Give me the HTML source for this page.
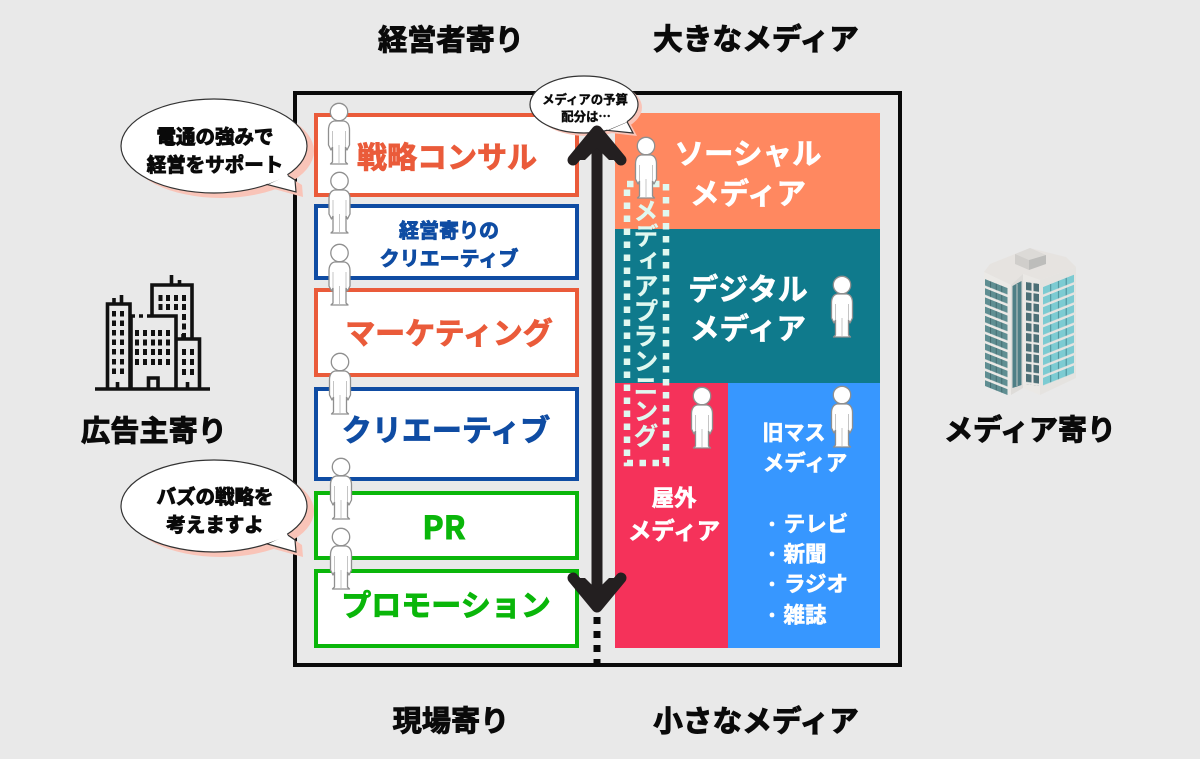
<!DOCTYPE html>
<html lang="ja">
<head>
<meta charset="utf-8">
<style>
html,body{margin:0;padding:0;background:#e9e9e9}
svg{display:block}
text{font-family:"Noto Sans CJK JP","Liberation Sans",sans-serif;font-weight:700;text-anchor:middle;dominant-baseline:central}
.k{fill:#0a0a0a;stroke:#0a0a0a;stroke-width:1}
.o{fill:#ea5b3a;stroke:#ea5b3a;stroke-width:.9}
.b{fill:#0f4ca3;stroke:#0f4ca3;stroke-width:.9}
.g{fill:#0ab60a;stroke:#0ab60a;stroke-width:.9}
.ws{fill:#fff;stroke:#fff;stroke-width:.6}
.box{fill:#fff;stroke-width:4}
.bub{fill:#fff;stroke:#333;stroke-width:1.2}
.sh{fill:#f9c4b8}
</style>
</head>
<body>
<svg width="1200" height="759" viewBox="0 0 1200 759" xmlns="http://www.w3.org/2000/svg">
<defs>
<g id="p">
<circle cx="0" cy="9" r="8.7" fill="#fff" stroke="#8f8f8f" stroke-width="1.3"/>
<path d="M-5 18H5C9 19 10.500 22 10.500 27L10.500 42L8 47L6.500 44L6.500 59L8.500 61H-8.500L-6.500 59L-6.500 44L-8 47L-10.500 42L-10.500 27C-10.500 22-9 19-5 18Z" fill="#fff" stroke="#8f8f8f" stroke-width="1.3" stroke-linejoin="round"/>
<path d="M0 42V60M-6.500 28V44M6.500 28V44" stroke="#c4c4c4" stroke-width="1" fill="none"/>
</g>
<pattern id="lw" width="22.5" height="9.2" patternUnits="userSpaceOnUse">
<rect width="22.5" height="6.5" fill="#5f8e92"/>
<path d="M5.600 0V6.500M11.200 0V6.500M16.800 0V6.500" stroke="#3f666b" stroke-width=".8"/>
</pattern>
<pattern id="rw" width="31" height="10.1" patternUnits="userSpaceOnUse">
<rect width="31" height="7.5" fill="#7ccbd2"/>
<path d="M7.700 0V7.500M15.500 0V7.500M23.200 0V7.500" stroke="#3e7f88" stroke-width=".8"/>
</pattern>
<pattern id="mw" width="13" height="10.2" patternUnits="userSpaceOnUse">
<rect x="0" width="5.5" height="8" fill="#4c6f76"/>
<rect x="7.500" width="5.5" height="8" fill="#4c6f76"/>
</pattern>
</defs>

<rect width="1200" height="759" fill="#e9e9e9"/>

<!-- frame -->
<rect x="295" y="93" width="605" height="572" fill="#e9e9e9" stroke="#0a0a0a" stroke-width="4"/>

<!-- left boxes -->
<rect class="box" x="316" y="115" width="261" height="80" stroke="#ea5b3a"/>
<rect class="box" x="316" y="206" width="261" height="72" stroke="#0f4ca3"/>
<rect class="box" x="316" y="290" width="261" height="85" stroke="#ea5b3a"/>
<rect class="box" x="316" y="389" width="261" height="90" stroke="#0f4ca3"/>
<rect class="box" x="316" y="493" width="261" height="65" stroke="#0ab60a"/>
<rect class="box" x="316" y="571" width="261" height="75" stroke="#0ab60a"/>

<text class="o" x="447" y="155" font-size="30">戦略コンサル</text>
<text class="b" x="449" y="229" font-size="20">経営寄りの</text>
<text class="b" x="449" y="257" font-size="20">クリエーティブ</text>
<text class="o" x="449" y="331" font-size="30">マーケティング</text>
<text class="b" x="446" y="428" font-size="30">クリエーティブ</text>
<text class="g" x="444" y="526" font-size="32">PR</text>
<text class="g" x="446" y="603" font-size="30">プロモーション</text>

<!-- right blocks -->
<rect x="615" y="113" width="265" height="116" fill="#ff8860"/>
<rect x="615" y="229" width="265" height="154" fill="#0f7a8c"/>
<rect x="615" y="383" width="113" height="265" fill="#f5325a"/>
<rect x="728" y="383" width="152" height="265" fill="#3797ff"/>

<text class="ws" x="748" y="152" font-size="29.5">ソーシャル</text>
<text class="ws" x="748" y="192" font-size="29.5">メディア</text>
<text class="ws" x="748" y="287" font-size="30">デジタル</text>
<text class="ws" x="748" y="327" font-size="29.5">メディア</text>
<text class="ws" x="674" y="497" font-size="22.5">屋外</text>
<text class="ws" x="674" y="529" font-size="23.5">メディア</text>
<text class="ws" x="794" y="432" font-size="21">旧マス</text>
<text class="ws" x="805" y="462" font-size="21.5">メディア</text>
<text class="ws" x="772" y="523" font-size="16">・</text>
<text class="ws" x="772" y="553" font-size="16">・</text>
<text class="ws" x="772" y="583" font-size="16">・</text>
<text class="ws" x="772" y="614" font-size="16">・</text>
<text class="ws" x="816" y="523" font-size="21.5">テレビ</text>
<text class="ws" x="805" y="553" font-size="21.5">新聞</text>
<text class="ws" x="816" y="583" font-size="21.5">ラジオ</text>
<text class="ws" x="805" y="614" font-size="21.5">雑誌</text>

<!-- dotted media planning -->
<rect x="627" y="184" width="39" height="279" fill="none" stroke="#e0f8f0" stroke-width="6.5" stroke-dasharray="6.5 6.5"/>
<text x="646" y="198" font-size="25" fill="#e0f8f0" stroke="#e0f8f0" stroke-width=".3" style="writing-mode:vertical-rl;text-anchor:start;dominant-baseline:central">メディアプランニング</text>

<!-- persons -->
<use href="#p" x="339" y="103"/>
<use href="#p" x="339.5" y="172"/>
<use href="#p" x="339.5" y="244"/>
<use href="#p" x="340" y="353"/>
<use href="#p" x="341" y="458"/>
<use href="#p" x="341" y="528"/>
<use href="#p" x="646" y="137"/>
<use href="#p" x="842" y="276"/>
<use href="#p" x="702" y="387"/>
<use href="#p" x="842" y="386"/>

<!-- bubbles -->
<g transform="translate(7,5)" class="sh"><ellipse cx="214" cy="146" rx="93" ry="47"/><polygon points="267,184 287,175 295,180 296,192"/></g>
<ellipse class="bub" cx="214" cy="146" rx="93" ry="47"/>
<polygon points="267,184.500 287,175 295,180 296,192" fill="#fff" stroke="#333" stroke-width="1.2" stroke-linejoin="miter"/>
<polygon points="262,181 285,170 288,176 268,184" fill="#fff"/>
<text class="k" x="215" y="135" font-size="19.5">電通の強みで</text>
<text class="k" x="215" y="163" font-size="19.5">経営をサポート</text>

<g transform="translate(7,5)" class="sh"><ellipse cx="214" cy="506" rx="93" ry="46"/><polygon points="267,544 287,534.500 295,540 296,552"/></g>
<ellipse class="bub" cx="214" cy="506" rx="93" ry="46"/>
<polygon points="267,543.800 287,534.500 295,540 296,552" fill="#fff" stroke="#333" stroke-width="1.2"/>
<polygon points="262,540 285,530 288,536 268,543" fill="#fff"/>
<text class="k" x="215" y="495" font-size="19.5">バズの戦略を</text>
<text class="k" x="215" y="523" font-size="19.5">考えますよ</text>

<g transform="translate(4,3)" class="sh"><ellipse cx="584" cy="104.500" rx="54" ry="28.500"/><polygon points="607,130 627,121.700 633,133"/></g>
<ellipse class="bub" cx="584" cy="104.500" rx="54" ry="28.500"/>
<polygon points="607,130.300 627,121.700 633,133" fill="#fff" stroke="#333" stroke-width="1.2"/>
<polygon points="603,128 625,118 627,122 608,130" fill="#fff"/>
<text class="k" style="stroke-width:.4" x="585" y="99" font-size="12.4">メディアの予算</text>
<text class="k" style="stroke-width:.4" x="586" y="116" font-size="12.4">配分は…</text>

<!-- arrow (above the bubble) -->
<path d="M597 130V608" stroke="#231f20" stroke-width="11"/>
<polygon points="597,131 573,160 585,160 597,148 609,160 621,160" fill="#231f20"/>
<polygon points="597,607 573,578 585,578 597,590 609,578 621,578" fill="#231f20"/>
<path d="M573 160L597 131L621 160M573 578L597 607L621 578" fill="none" stroke="#231f20" stroke-width="11" stroke-linecap="round" stroke-linejoin="round"/>
<path d="M597 617V665" stroke="#0a0a0a" stroke-width="7" stroke-dasharray="7 7"/>

<!-- headers -->
<text class="k" x="451" y="38" font-size="29.2">経営者寄り</text>
<text class="k" x="756" y="37" font-size="29.7">大きなメディア</text>
<text class="k" x="451" y="719" font-size="29.2">現場寄り</text>
<text class="k" x="756" y="719" font-size="29.7">小さなメディア</text>
<text class="k" x="154" y="429" font-size="29.2">広告主寄り</text>
<text class="k" x="1030" y="428" font-size="29">メディア寄り</text>

<!-- left city icon -->
<g fill="none" stroke="#111" stroke-width="3.6">
<path d="M95 389H210"/>
<path d="M107.500 389V304H130V389"/>
<path d="M114 304V298M121.500 304V295"/>
<path d="M152 316V285H192V339"/>
<path d="M171.500 285V275M179.500 285V280"/>
<path d="M131 389V316H135M139 316H143M147 316H176V389"/>
<path d="M176 339H199.500V389"/>
<path d="M183 339V334"/>
<path d="M148.500 389V378H158V389"/>
<path d="M117.500 389V382M187.500 389V382"/>
</g>
<g fill="#111">
<path d="M112 311h4v5.500h-4zM120 311h4v5.500h-4zM112 320.500h4v5.500h-4zM120 320.500h4v5.500h-4zM112 330h4v5.500h-4zM120 330h4v5.500h-4zM112 339.500h4v5.500h-4zM120 339.500h4v5.500h-4zM112 349h4v5.500h-4zM120 349h4v5.500h-4zM112 359h4v5.500h-4zM120 359h4v5.500h-4zM112 368.500h4v5.500h-4zM120 368.500h4v5.500h-4z"/>
<path d="M158.500 295h4v6h-4zM166 295h4v6h-4zM174 295h4v6h-4zM182 295h4v6h-4zM158.500 304h4v6h-4zM166 304h4v6h-4zM174 304h4v6h-4zM182 304h4v6h-4zM182 314h4v6h-4zM182 323.500h4v6h-4zM182 333h4v5h-4z"/>
<path d="M135 330h4v6h-4zM143 330h4v6h-4zM151 330h4v6h-4zM158 330h4v6h-4zM166 330h4v6h-4zM135 339.500h4v6h-4zM143 339.500h4v6h-4zM151 339.500h4v6h-4zM158 339.500h4v6h-4zM166 339.500h4v6h-4zM135 349h4v6h-4zM143 349h4v6h-4zM151 349h4v6h-4zM158 349h4v6h-4zM166 349h4v6h-4zM135 359h4v6h-4zM143 359h4v6h-4zM151 359h4v6h-4zM158 359h4v6h-4zM166 359h4v6h-4z"/>
<path d="M182 349h4v6h-4zM190 349h4v6h-4zM182 359h4v6h-4zM190 359h4v6h-4zM182 369h4v6h-4zM190 369h4v6h-4z"/>
</g>

<!-- right building -->
<polygon points="984,272 990,264 1030,248 1066,257 1076,267 1040,280 1023,274 1011,285" fill="#e6e3e0"/>
<polygon points="1015,254 1030,248 1046,255 1029,260" fill="#dcdad7"/>
<polygon points="1029,260 1046,255 1046,264 1029,270" fill="#bdbdbb"/>
<polygon points="1015,254 1029,260 1029,270 1015,264" fill="#d0cecb"/>
<polygon points="984,272 1011,285 1011,395 984,382" fill="#ebe9e6"/>
<polygon points="1011,285 1023,274 1023,388 1011,395" fill="#dedcd9"/>
<polygon points="1023,274 1040,280 1040,395 1023,388" fill="#eae8e5"/>
<polygon points="1040,280 1076,267 1076,378 1040,395" fill="#e5e3e0"/>
<g transform="translate(985,279) skewY(21.800)"><rect width="22.500" height="107" fill="url(#lw)"/></g>
<polygon points="1012.500,286 1021.500,281 1021.500,385 1012.500,388" fill="#4f7f86"/>
<path d="M1017 284V386" stroke="#c4c8c7" stroke-width="1"/>
<g transform="translate(1026,282) skewY(8)"><rect width="13" height="102" fill="url(#mw)"/></g>
<g transform="translate(1043,287) skewY(-21.800)"><rect width="31" height="100" fill="url(#rw)"/></g>
</svg>
</body>
</html>
